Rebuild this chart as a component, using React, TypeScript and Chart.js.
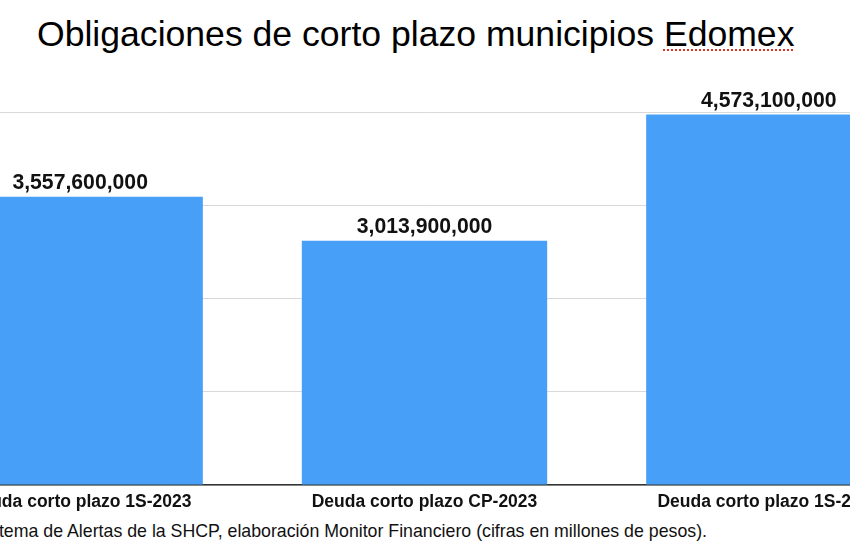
import React, { useEffect, useRef } from "react";
import { Chart, registerables } from "chart.js";

Chart.register(...registerables);

const title = "Obligaciones de corto plazo municipios";
const titleMarked = "Edomex";
const source =
  "Fuente: Sistema de Alertas de la SHCP, elaboración Monitor Financiero (cifras en millones de pesos).";
const categories = [
  "Deuda corto plazo 1S-2023",
  "Deuda corto plazo CP-2023",
  "Deuda corto plazo 1S-2024",
];
const values = [3557600000, 3013900000, 4573100000];
const yMax = 4600000000;
const yStep = 1150000000;

const FONT = "'Liberation Sans', Arial, Helvetica, sans-serif";
const BAR_COLOR = "#489ff8";

const valueLabels = {
  id: "valueLabels",
  afterDatasetsDraw(chart: any) {
    const ctx = chart.ctx;
    const meta = chart.getDatasetMeta(0);
    ctx.save();
    ctx.font = `bold 21.2px ${FONT}`;
    ctx.fillStyle = "#111";
    ctx.textAlign = "center";
    ctx.textBaseline = "alphabetic";
    meta.data.forEach((bar: any, i: number) => {
      const v = chart.data.datasets[0].data[i] as number;
      ctx.fillText(v.toLocaleString("en-US"), bar.x, bar.y - 7.5);
    });
    ctx.restore();
  },
};

export default function App() {
  const ref = useRef<HTMLCanvasElement>(null);
  useEffect(() => {
    if (!ref.current) return;
    const chart = new Chart(ref.current, {
      type: "bar",
      data: {
        labels: categories,
        datasets: [
          {
            data: values,
            backgroundColor: BAR_COLOR,
            borderWidth: 0,
            categoryPercentage: 1,
            barPercentage: 0.7125,
          },
        ],
      },
      options: {
        animation: false,
        responsive: false,
        maintainAspectRatio: false,
        layout: { padding: { top: 112.3, left: 0, right: 0, bottom: 0 } },
        plugins: {
          legend: { display: false },
          tooltip: { enabled: false },
          title: { display: false },
        },
        scales: {
          x: {
            grid: { display: false, drawTicks: false },
            border: { display: true, color: "#333", width: 1.5 },
            ticks: {
              padding: 7,
              color: "#111",
              font: { family: FONT, size: 17.5, weight: "bold" },
              maxRotation: 0,
              autoSkip: false,
            },
          },
          y: {
            min: 0,
            max: yMax,
            grid: { color: "#d9d9d9", lineWidth: 1, drawTicks: false },
            border: { display: false },
            ticks: { display: false, stepSize: yStep },
          },
        },
      },
      plugins: [valueLabels],
    });
    return () => chart.destroy();
  }, []);

  return (
    <div
      style={{
        position: "fixed",
        left: 0,
        top: 0,
        width: 850,
        height: 550,
        overflow: "hidden",
        background: "#fff",
        fontFamily: FONT,
      }}
    >
      <div
        style={{
          position: "absolute",
          left: 37,
          top: 16.8,
          fontSize: 35.6,
          lineHeight: "35.6px",
          whiteSpace: "nowrap",
          color: "#000",
        }}
      >
        {title}{" "}
        <span
          style={{
            textDecorationLine: "underline",
            textDecorationStyle: "dotted",
            textDecorationColor: "#e0302a",
            textDecorationThickness: "2px",
            textUnderlineOffset: "4px",
          }}
        >
          {titleMarked}
        </span>
      </div>
      <canvas
        ref={ref}
        width={1033}
        height={520}
        style={{ position: "absolute", left: -92, top: 0, width: 1033, height: 520 }}
      />
      <div
        style={{
          position: "absolute",
          right: 143,
          top: 523,
          fontSize: 17.75,
          lineHeight: "17.75px",
          whiteSpace: "nowrap",
          color: "#111",
          textAlign: "right",
        }}
      >
        {source}
      </div>
    </div>
  );
}
